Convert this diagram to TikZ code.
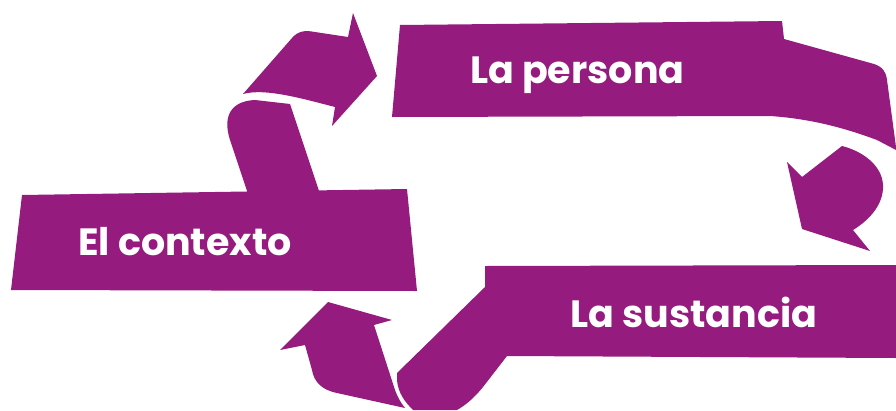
\documentclass[tikz,border=0pt]{standalone}
\usepackage{fontspec}
\newfontfamily\lblfont{Poppins}
\definecolor{plum}{RGB}{149,27,126}
\begin{document}
\begin{tikzpicture}[x=1pt,y=-1pt,
  blob/.style={fill=plum,draw=none},
  lbl/.style={anchor=base west,inner sep=0pt,text=white,font=\lblfont\bfseries\fontsize{38}{40}\selectfont}]
\useasboundingbox (0,0) rectangle (896,410);
% La persona band
\fill[blob] (400,25) -- (782,21) -- (784,39) -- (874,64) .. controls (883,67) and (886,72) .. (887,80) -- (896,147) -- (896,150) -- (877,140) .. controls (850,130) and (815,119) .. (770,116) -- (392,117) -- cycle;
% down arrow
\fill[blob] (802,229) -- (787,162) -- (802,177) -- (842,146) .. controls (862,151) and (882,165) .. (883,185) .. controls (884,205) and (868,221) .. (853,230) -- (870,251) -- cycle;
% top-left arrow
\fill[blob] (377,76) -- (332,126) -- (335,107) .. controls (300,98) and (265,88) .. (243,94) -- (292,38) .. controls (298,31) and (305,30) .. (315,32) -- (348,37) -- (353,13) -- cycle;
% column
\fill[blob] (250,200) -- (230,140) .. controls (222,115) and (232,101) .. (255,100) -- (290,104) -- (322,200) -- cycle;
% El contexto box
\fill[blob] (22,195) -- (407,189) -- (417,291) -- (11,290) -- cycle;
% La sustancia band
\fill[blob] (485,266) -- (896,265) -- (896,358) -- (507,356) -- (483,387) .. controls (475,397) and (466,405) .. (457,410) -- (413,410) .. controls (405,402) and (398,393) .. (397,380) -- (397,373) -- (485,287) -- cycle;
% bottom-left arrow
\fill[blob] (328,302) -- (392,320) -- (374,325) -- (395,390) .. controls (398,398) and (401,403) .. (405,408) -- (337,393) .. controls (322,390) and (314,382) .. (312,370) -- (305,345) -- (280,350) -- cycle;
\node[lbl] (persona) at (470,83) {La persona};
\node[lbl] (contexto) at (78,255) {El contexto};
\node[lbl] (sustancia) at (570,327) {La sustancia};
\end{tikzpicture}
\end{document}
